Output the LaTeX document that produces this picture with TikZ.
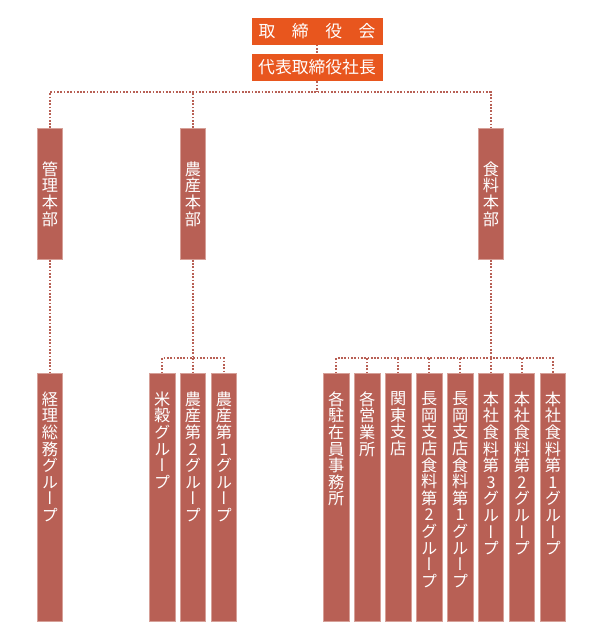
\documentclass[tikz,border=0pt]{standalone}
\usepackage{fontspec}
\usepackage{tikz}
\newfontfamily\jp{Noto Sans CJK JP}
\newfontfamily\jpv{Noto Sans CJK JP}[RawFeature=+vert]
\definecolor{topor}{RGB}{232,86,30}
\definecolor{boxred}{RGB}{184,96,85}
\definecolor{boxline}{RGB}{214,160,152}
\newcommand\vcol[1]{\parbox[c][248pt][t]{24pt}{\centering\vspace*{18pt}#1}}

\tikzset{
  top/.style={fill=topor, text=white, minimum width=131pt, minimum height=27pt,
    inner sep=0pt, font=\jp\fontsize{16.8}{16.8}\selectfont},
  dept/.style={fill=boxred, draw=boxline, line width=0.7pt, text=white,
    minimum width=25.5pt, minimum height=131pt, inner sep=0pt, align=center,
    font=\jpv\fontsize{16.2}{16.6}\selectfont},
  grp/.style={dept, minimum height=248pt, anchor=north},
  link/.style={draw=boxred, line width=1.7pt, dash pattern=on 1.7pt off 1.6pt},
}

\begin{document}
\begin{tikzpicture}[x=1pt,y=-1pt]
\useasboundingbox (0,0) rectangle (600,640);

\node[top] (torishimari) at (317,31) {\makebox[117pt][s]{取\hfill 締\hfill 役\hfill 会}};
\node[top] (daihyo) at (317,67.5) {代表取締役社長};

\coordinate (topbus) at (317,92.3);

\node[dept] (kanri) at (50,194) {管\\理\\本\\部};
\node[dept] (nosan) at (193,194) {農\\産\\本\\部};
\node[dept] (shokuryo) at (491,194) {食\\料\\本\\部};

\coordinate (nbus) at (193,358.3);
\coordinate (sbus) at (491,358.3);

\node[grp] (keiri) at (50,373.3) {\vcol{経\\理\\総\\務\\グ\\ル\\ー\\プ}};

\node[grp] (beikoku) at (162.1,373.3) {\vcol{米\\穀\\グ\\ル\\ー\\プ}};
\node[grp] (nosan2) at (193,373.3) {\vcol{農\\産\\第\\2\\グ\\ル\\ー\\プ}};
\node[grp] (nosan1) at (223.9,373.3) {\vcol{農\\産\\第\\1\\グ\\ル\\ー\\プ}};

\node[grp] (chuzai) at (336.3,373.3) {\vcol{各\\駐\\在\\員\\事\\務\\所}};
\node[grp] (eigyo) at (367.3,373.3) {\vcol{各\\営\\業\\所}};
\node[grp] (kanto) at (398.2,373.3) {\vcol{関\\東\\支\\店}};
\node[grp] (nagaoka2) at (429.1,373.3) {\vcol{長\\岡\\支\\店\\食\\料\\第\\2\\グ\\ル\\ー\\プ}};
\node[grp] (nagaoka1) at (460.1,373.3) {\vcol{長\\岡\\支\\店\\食\\料\\第\\1\\グ\\ル\\ー\\プ}};
\node[grp] (honsha3) at (491,373.3) {\vcol{本\\社\\食\\料\\第\\3\\グ\\ル\\ー\\プ}};
\node[grp] (honsha2) at (521.9,373.3) {\vcol{本\\社\\食\\料\\第\\2\\グ\\ル\\ー\\プ}};
\node[grp] (honsha1) at (552.9,373.3) {\vcol{本\\社\\食\\料\\第\\1\\グ\\ル\\ー\\プ}};

% top of the chart
\draw[link] (torishimari) -- (daihyo);
\draw[link] (daihyo) -- (topbus);
\draw[link] (kanri.north) |- (topbus) -| (shokuryo.north);
\draw[link] (nosan) -- (nosan |- topbus);

% groups
\draw[link] (kanri) -- (keiri);

\draw[link] (nosan) -- (nbus);
\draw[link] (beikoku.north) |- (nbus) -| (nosan1.north);
\draw[link] (nbus) -- (nosan2);

\draw[link] (shokuryo) -- (sbus);
\draw[link] (chuzai.north) |- (sbus) -| (honsha1.north);
\draw[link] (eigyo) -- (eigyo |- sbus);
\draw[link] (kanto) -- (kanto |- sbus);
\draw[link] (nagaoka2) -- (nagaoka2 |- sbus);
\draw[link] (nagaoka1) -- (nagaoka1 |- sbus);
\draw[link] (honsha3) -- (honsha3 |- sbus);
\draw[link] (honsha2) -- (honsha2 |- sbus);

\end{tikzpicture}
\end{document}
